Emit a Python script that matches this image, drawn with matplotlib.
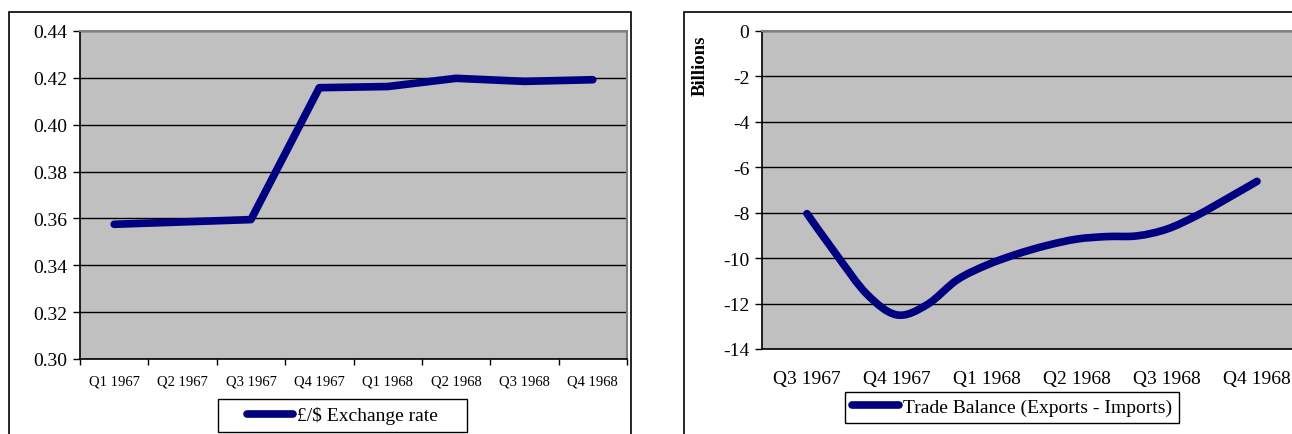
import numpy as np
import matplotlib
matplotlib.use('Agg')
import matplotlib.pyplot as plt
from matplotlib.path import Path
from matplotlib.patches import PathPatch, Rectangle
from matplotlib.lines import Line2D
from matplotlib.ticker import FuncFormatter

plt.rcParams['font.family'] = 'Liberation Serif'
plt.rcParams['axes.unicode_minus'] = False

# exchange rate, quarterly
fx_quarters = ['Q1 1967', 'Q2 1967', 'Q3 1967', 'Q4 1967',
               'Q1 1968', 'Q2 1968', 'Q3 1968', 'Q4 1968']
fx_rate = [0.3575, 0.3585, 0.3595, 0.4158, 0.4163, 0.4198, 0.4185, 0.4192]

# trade balance, monthly readings (billions), labelled by quarter
tb_quarters = ['Q3 1967', 'Q4 1967', 'Q1 1968', 'Q2 1968', 'Q3 1968', 'Q4 1968']
tb_months = np.arange(16) / 3.0
tb_balance = [-8.04, -9.88, -11.59, -12.50, -12.05, -10.96, -10.30, -9.82,
              -9.44, -9.16, -9.05, -9.02, -8.72, -8.12, -7.38, -6.62]

NAVY = '#000080'
PLOT_BG = '#C0C0C0'


def smooth_path(x, y):
    # Excel-style smoothed line: cubic Bezier through every point
    pts = np.column_stack([x, y])
    padded = np.vstack([pts[0], pts, pts[-1]])
    verts = [pts[0]]
    codes = [Path.MOVETO]
    for i in range(len(pts) - 1):
        p0, p1, p2, p3 = padded[i], padded[i + 1], padded[i + 2], padded[i + 3]
        c1 = p1 + (p2 - p0) / 6.0
        c2 = p2 - (p3 - p1) / 6.0
        verts += [c1, c2, p2]
        codes += [Path.CURVE4] * 3
    return Path(verts, codes)


def style_axes(ax):
    ax.set_facecolor(PLOT_BG)
    ax.grid(axis='y', color='black', linewidth=1)
    ax.set_axisbelow(True)
    for side in ['top', 'right']:
        ax.spines[side].set_color('#808080')
        ax.spines[side].set_linewidth(1.5)
    for side in ['left', 'bottom']:
        ax.spines[side].set_color('black')
        ax.spines[side].set_linewidth(1.2)


fig = plt.figure(figsize=(12.92, 4.35), dpi=100)

# chart frames
fig.patches.append(Rectangle((9 / 1292, -0.1), 622 / 1292, 1 - 13 / 435 + 0.1,
                             transform=fig.transFigure, fill=False,
                             edgecolor='black', linewidth=1.2))
fig.patches.append(Rectangle((684 / 1292, -0.1), 0.6, 1 - 13 / 435 + 0.1,
                             transform=fig.transFigure, fill=False,
                             edgecolor='black', linewidth=1.2))

# left: exchange rate
ax1 = fig.add_axes([80 / 1292, 75 / 435, 547 / 1292, 328 / 435])
style_axes(ax1)
xs = np.arange(len(fx_quarters))
ax1.plot(xs, fx_rate, color=NAVY, linewidth=5.5, solid_capstyle='round',
         solid_joinstyle='round')
ax1.set_xlim(-0.5, len(fx_quarters) - 0.5)
ax1.set_ylim(0.30, 0.44)
ax1.set_yticks(np.arange(0.30, 0.4401, 0.02))
ax1.yaxis.set_major_formatter(FuncFormatter(lambda v, p: '%.2f' % v))
ax1.set_xticks(np.arange(-0.5, len(fx_quarters)), minor=False)
ax1.set_xticklabels([])
ax1.set_xticks(xs, minor=True)
ax1.set_xticklabels(fx_quarters, minor=True, fontsize=10.5)
ax1.tick_params(axis='x', which='major', direction='out', length=4, width=1)
ax1.tick_params(axis='x', which='minor', length=0, pad=11)
ax1.tick_params(axis='y', direction='out', length=5, width=1, labelsize=14, pad=4)

h1 = Line2D([], [], color=NAVY, linewidth=5.5, solid_capstyle='round')
ax1.legend([h1], ['£/$ Exchange rate'], loc='center',
           bbox_to_anchor=(342.5 / 1292, 18.5 / 435), bbox_transform=fig.transFigure,
           frameon=False, fontsize=14, handlelength=2.4, handletextpad=0.2,
           borderpad=0)
fig.patches.append(Rectangle((218 / 1292, 2 / 435), 249 / 1292, 33 / 435,
                             transform=fig.transFigure, fill=False,
                             edgecolor='black', linewidth=1))

# right: trade balance
ax2 = fig.add_axes([762 / 1292, 85 / 435, 540 / 1292, 318 / 435])
style_axes(ax2)
ax2.add_patch(PathPatch(smooth_path(tb_months, tb_balance), fill=False,
                        edgecolor=NAVY, linewidth=5.5, capstyle='round',
                        joinstyle='round'))
ax2.set_xlim(-0.5, len(tb_quarters) - 0.5)
ax2.set_ylim(-14, 0)
ax2.set_yticks(np.arange(-14, 1, 2))
ax2.yaxis.set_major_formatter(FuncFormatter(lambda v, p: '%d' % v))
ax2.set_xticks(np.arange(len(tb_quarters)))
ax2.set_xticklabels(tb_quarters, fontsize=14)
ax2.tick_params(axis='x', length=0, pad=15)
ax2.tick_params(axis='y', direction='out', length=5, width=1, labelsize=14, pad=4)
fig.text(700 / 1292, 1 - 66 / 435, 'Billions', rotation=90, fontsize=13.5,
         fontweight='bold', ha='center', va='center')

h2 = Line2D([], [], color=NAVY, linewidth=5.5, solid_capstyle='round')
ax2.legend([h2], ['Trade Balance (Exports - Imports)'], loc='center',
           bbox_to_anchor=(1012 / 1292, 26.5 / 435), bbox_transform=fig.transFigure,
           frameon=False, fontsize=14, handlelength=2.4, handletextpad=0.2,
           borderpad=0)
fig.patches.append(Rectangle((845 / 1292, 11 / 435), 334 / 1292, 31 / 435,
                             transform=fig.transFigure, fill=False,
                             edgecolor='black', linewidth=1))

fig.savefig('out.png', dpi=100)
